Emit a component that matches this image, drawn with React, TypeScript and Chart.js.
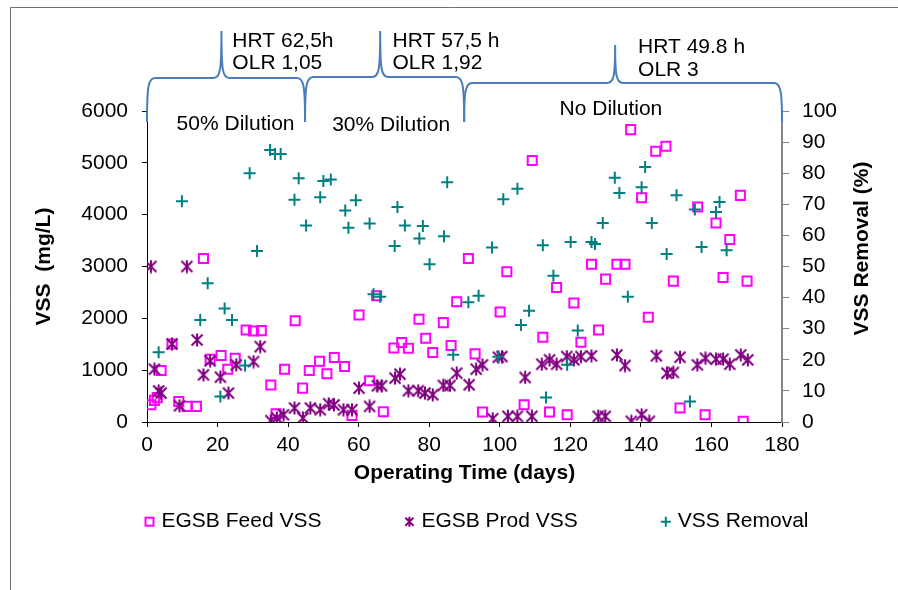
import React, { useEffect, useRef } from "react";
import { Chart, registerables } from "chart.js";

Chart.register(...registerables);

const FONT = '"Liberation Sans", Arial, Helvetica, sans-serif';

// ---- data ----
const feedDays = [1.1, 2.1, 2.9, 4.0, 7.1, 9.0, 11.3, 14.0, 16.0, 17.9, 21.0, 22.9, 25.0, 28.1, 30.2, 32.4, 35.1, 36.6, 39.0, 42.0, 44.1, 46.0, 48.9, 51.0, 53.1, 56.0, 58.1, 60.1, 63.1, 65.1, 67.0, 70.0, 72.2, 74.1, 77.1, 79.0, 81.0, 84.0, 86.2, 87.8, 91.1, 93.0, 95.1, 100.1, 102.0, 106.9, 109.2, 112.2, 114.1, 116.1, 119.1, 121.0, 123.0, 126.0, 128.0, 130.0, 133.2, 135.5, 137.1, 140.2, 142.1, 144.2, 147.1, 149.2, 151.1, 156.1, 158.2, 161.3, 163.3, 165.2, 168.2, 169.0, 170.1];
const feedVss = [333, 417, 470, 994, 1506, 397, 301, 301, 3154, 1212, 1282, 1019, 1231, 1776, 1756, 1763, 712, 160, 1019, 1955, 654, 994, 1173, 929, 1244, 1071, 128, 2064, 795, 2436, 199, 1429, 1532, 1423, 1981, 1615, 1340, 1917, 1474, 2321, 3154, 1314, 192, 2122, 2897, 333, 5045, 1635, 192, 2596, 141, 2295, 1538, 3045, 1776, 2756, 3045, 3045, 5641, 4327, 2019, 5224, 5321, 2718, 269, 4147, 141, 3840, 2788, 3519, 4372, 13, 2718];

const prodDays = [1.1, 11.3, 2.1, 3.3, 4.0, 7.1, 9.2, 14.2, 16.0, 17.9, 20.8, 23.1, 25.3, 30.2, 32.1, 35.1, 36.8, 38.7, 41.8, 44.2, 46.3, 49.1, 51.5, 53.0, 55.7, 58.1, 60.1, 63.1, 65.3, 66.5, 70.3, 71.7, 74.1, 76.9, 78.8, 81.0, 84.0, 85.9, 87.8, 91.3, 93.3, 95.1, 98.0, 99.6, 100.6, 102.3, 105.0, 107.2, 109.1, 111.9, 114.1, 116.1, 119.0, 121.0, 123.0, 126.0, 127.9, 129.9, 133.2, 135.5, 137.3, 140.2, 142.4, 144.4, 147.4, 149.2, 151.1, 156.0, 158.3, 161.3, 163.3, 165.2, 168.3, 170.3];
const prodVss = [3000, 3000, 1019, 600, 558, 1506, 314, 1583, 910, 1180, 865, 558, 1103, 1167, 1455, 26, 77, 141, 269, 77, 269, 237, 353, 330, 237, 237, 654, 301, 699, 699, 846, 923, 603, 603, 558, 526, 705, 705, 942, 718, 1019, 1103, 64, 1250, 1263, 109, 109, 859, 109, 1115, 1199, 1115, 1263, 1199, 1263, 1276, 109, 109, 1295, 1090, 13, 141, 13, 1276, 942, 955, 1250, 1103, 1231, 1212, 1212, 1115, 1295, 1199];

const removalDays = [3.3, 9.9, 15.1, 17.2, 20.8, 22.0, 24.1, 27.8, 29.1, 31.2, 34.9, 36.3, 37.9, 41.8, 43.0, 45.1, 49.1, 50.0, 52.1, 56.2, 57.1, 59.2, 63.1, 64.2, 66.1, 70.2, 71.0, 73.1, 77.2, 78.2, 80.1, 84.2, 85.1, 86.8, 91.1, 94.0, 97.8, 99.6, 101.0, 105.0, 106.0, 108.3, 112.2, 113.1, 115.2, 119.1, 120.1, 122.1, 126.0, 127.0, 129.2, 132.6, 133.9, 136.3, 140.2, 141.2, 143.1, 147.3, 150.1, 153.9, 155.3, 157.2, 161.3, 162.3, 164.3];
const removalPct = [22.4, 71, 32.8, 44.6, 8.2, 36.5, 32.8, 18.2, 80, 55, 87.5, 86.2, 86.2, 71.5, 78.4, 63.2, 72.3, 77.5, 78, 68, 62.5, 71.3, 63.8, 41.1, 40.3, 56.6, 69.1, 63.2, 59, 63, 50.7, 59.7, 77.1, 21.6, 38.5, 40.6, 56.1, 21, 71.6, 75, 31.2, 35.8, 56.8, 7.9, 47, 18.4, 57.9, 29.4, 57.9, 57.2, 64, 78.5, 73.6, 40.3, 75.5, 82, 64, 54, 72.9, 6.6, 68.3, 56.3, 67.5, 70.7, 55.2];

const seriesLabels = ["EGSB Feed VSS", "EGSB Prod VSS", "VSS Removal"];
const xTickLabels = ["0", "20", "40", "60", "80", "100", "120", "140", "160", "180"];
const leftTickLabels = ["0", "1000", "2000", "3000", "4000", "5000", "6000"];
const rightTickLabels = ["0", "10", "20", "30", "40", "50", "60", "70", "80", "90", "100"];

// phase annotations (braces) in days
const braceStart = [0, 44.8, 89.9];
const bracePeak = [21.1, 66.1, 132.7];
const braceEnd = [44.8, 89.9, 180];
const phaseNames = ["50% Dilution", "30% Dilution", "No Dilution"];
const phaseNameDay = [25.1, 69.2, 131.5];
const hrtText = ["HRT 62,5h", "HRT 57,5 h", "HRT 49.8 h"];
const olrText = ["OLR 1,05", "OLR 1,92", "OLR 3"];
const hrtDay = [24.2, 69.6, 139.2];

const MAGENTA = "#FF00FF";
const PURPLE = "#800080";
const TEAL = "#008080";
const BRACE = "#4A7EBB";

function makeStar(size: number, color: string, lw: number) {
  const c = document.createElement("canvas");
  c.width = size;
  c.height = size;
  const g = c.getContext("2d")!;
  g.strokeStyle = color;
  g.lineWidth = lw;
  g.lineCap = "butt";
  const m = size / 2;
  const a = m - 1.5;
  g.beginPath();
  g.moveTo(m - a, m - a);
  g.lineTo(m + a, m + a);
  g.moveTo(m + a, m - a);
  g.lineTo(m - a, m + a);
  g.moveTo(m, 0.5);
  g.lineTo(m, size - 0.5);
  g.stroke();
  return c;
}

function drawBrace(ctx: CanvasRenderingContext2D, xL: number, xP: number, xR: number, yH: number, yTop: number, yEnd: number) {
  const r = 8;
  ctx.beginPath();
  ctx.moveTo(xL, yEnd);
  ctx.bezierCurveTo(xL, yH + 10, xL + 1, yH, xL + r, yH);
  ctx.lineTo(xP - r, yH);
  ctx.bezierCurveTo(xP - 1, yH, xP, yH - 8, xP, yTop);
  ctx.bezierCurveTo(xP, yH - 8, xP + 1, yH, xP + r, yH);
  ctx.lineTo(xR - r, yH);
  ctx.bezierCurveTo(xR - 1, yH, xR, yH + 10, xR, yEnd);
  ctx.stroke();
}

const overlayPlugin = {
  id: "overlay",
  beforeDraw(chart: any) {
    const ctx: CanvasRenderingContext2D = chart.ctx;
    ctx.save();
    ctx.strokeStyle = "#6f6f6f";
    ctx.lineWidth = 1;
    ctx.beginPath();
    ctx.moveTo(10.5, 590);
    ctx.lineTo(10.5, 7.5);
    ctx.lineTo(898, 7.5);
    ctx.stroke();
    ctx.restore();
  },
  afterDraw(chart: any) {
    const ctx: CanvasRenderingContext2D = chart.ctx;
    const { chartArea, scales } = chart;
    const xs = scales.x;
    const top = chartArea.top;
    const yH = [top - 33, top - 34, top - 28];
    const yTop = [top - 80, top - 80, top - 66];
    const yEnd = top + 11;
    const hrtY = [top - 70, top - 70, top - 64];
    const olrY = [top - 47.5, top - 48, top - 41];
    const nameY = [top + 13.5, top + 14.5, top - 2];

    ctx.save();
    ctx.strokeStyle = BRACE;
    ctx.lineWidth = 2;
    for (let i = 0; i < braceStart.length; i++) {
      drawBrace(
        ctx,
        xs.getPixelForValue(braceStart[i]),
        xs.getPixelForValue(bracePeak[i]),
        xs.getPixelForValue(braceEnd[i]),
        yH[i],
        yTop[i],
        yEnd
      );
    }
    ctx.fillStyle = "#000";
    ctx.font = `21px ${FONT}`;
    ctx.textBaseline = "middle";
    for (let i = 0; i < hrtText.length; i++) {
      ctx.textAlign = "left";
      const hx = xs.getPixelForValue(hrtDay[i]);
      ctx.fillText(hrtText[i], hx, hrtY[i]);
      ctx.fillText(olrText[i], hx, olrY[i]);
      ctx.textAlign = "center";
      ctx.fillText(phaseNames[i], xs.getPixelForValue(phaseNameDay[i]), nameY[i]);
    }

    // right axis title (reads bottom-to-top)
    ctx.save();
    ctx.translate(chartArea.right + 80, (chartArea.top + chartArea.bottom) / 2 - 18);
    ctx.rotate(-Math.PI / 2);
    ctx.font = `bold 21px ${FONT}`;
    ctx.textAlign = "center";
    ctx.textBaseline = "middle";
    ctx.fillText("VSS Removal (%)", 0, 0);
    ctx.restore();

    // legend
    const ly = chartArea.bottom + 99.7;
    let cx = chartArea.left + 2.5;
    ctx.font = `21px ${FONT}`;
    ctx.textAlign = "left";
    ctx.textBaseline = "middle";
    for (let i = 0; i < seriesLabels.length; i++) {
      ctx.lineWidth = 2;
      if (i === 0) {
        ctx.strokeStyle = MAGENTA;
        ctx.strokeRect(cx - 4, ly - 4, 8, 8);
      } else if (i === 1) {
        ctx.strokeStyle = PURPLE;
        ctx.beginPath();
        ctx.moveTo(cx - 4, ly - 4);
        ctx.lineTo(cx + 4, ly + 4);
        ctx.moveTo(cx + 4, ly - 4);
        ctx.lineTo(cx - 4, ly + 4);
        ctx.moveTo(cx, ly - 5);
        ctx.lineTo(cx, ly + 5);
        ctx.stroke();
      } else {
        ctx.strokeStyle = TEAL;
        ctx.beginPath();
        ctx.moveTo(cx - 5, ly);
        ctx.lineTo(cx + 5, ly);
        ctx.moveTo(cx, ly - 5);
        ctx.lineTo(cx, ly + 5);
        ctx.stroke();
      }
      const tx = cx + 12;
      ctx.fillStyle = "#000";
      ctx.fillText(seriesLabels[i], tx, ly);
      cx = tx + ctx.measureText(seriesLabels[i]).width + 88;
    }
    ctx.restore();
  },
};

export default function App() {
  const ref = useRef<HTMLCanvasElement | null>(null);
  useEffect(() => {
    if (!ref.current) return;
    Chart.defaults.font.family = FONT;
    Chart.defaults.font.size = 21;
    Chart.defaults.color = "#000";
    const star = makeStar(14, PURPLE, 2);
    const chart = new Chart(ref.current, {
      type: "scatter",
      data: {
        datasets: [
          {
            label: seriesLabels[0],
            data: feedDays.map((d, i) => ({ x: d, y: feedVss[i] })),
            yAxisID: "y",
            pointStyle: "rect",
            pointRadius: 6.4,
            pointBorderWidth: 2,
            borderColor: MAGENTA,
            backgroundColor: "rgba(0,0,0,0)",
            order: 3,
          },
          {
            label: seriesLabels[1],
            data: prodDays.map((d, i) => ({ x: d, y: prodVss[i] })),
            yAxisID: "y",
            pointStyle: star as any,
            pointRadius: 7,
            borderColor: PURPLE,
            backgroundColor: PURPLE,
            order: 2,
          },
          {
            label: seriesLabels[2],
            data: removalDays.map((d, i) => ({ x: d, y: removalPct[i] })),
            yAxisID: "y1",
            pointStyle: "cross",
            pointRadius: 6,
            pointBorderWidth: 2,
            borderColor: TEAL,
            backgroundColor: TEAL,
            order: 1,
          },
        ],
      },
      options: {
        responsive: false,
        animation: false,
        events: [],
        layout: { padding: { left: 20, right: 0, top: 111, bottom: 100 } },
        plugins: { legend: { display: false }, tooltip: { enabled: false } },
        scales: {
          x: {
            type: "linear",
            position: "bottom",
            min: 0,
            max: 180,
            ticks: {
              stepSize: 20,
              padding: 6,
              maxRotation: 0,
              color: "#000",
              font: { size: 21 },
              callback: (_v: any, i: number) => xTickLabels[i],
            },
            grid: { drawOnChartArea: false, drawTicks: true, tickLength: 5, tickColor: "#000" },
            border: { color: "#000", width: 1 },
            title: {
              display: true,
              text: "Operating Time (days)",
              color: "#000",
              font: { size: 21, weight: "bold" },
              padding: { top: 0, bottom: 4 },
            },
            afterFit: (s: any) => {
              s.height = 68;
            },
          },
          y: {
            type: "linear",
            position: "left",
            min: 0,
            max: 6000,
            ticks: {
              stepSize: 1000,
              padding: 14,
              color: "#000",
              font: { size: 21 },
              callback: (_v: any, i: number) => leftTickLabels[i],
            },
            grid: { drawOnChartArea: false, drawTicks: true, tickLength: 5, tickColor: "#000" },
            border: { color: "#000", width: 1 },
            title: {
              display: true,
              text: "VSS  (mg/L)",
              color: "#000",
              font: { size: 21, weight: "bold" },
              padding: { top: 12, bottom: 0 },
            },
            afterFit: (s: any) => {
              s.width = 127;
            },
          },
          y1: {
            type: "linear",
            position: "right",
            min: 0,
            max: 100,
            ticks: {
              stepSize: 10,
              padding: 13,
              color: "#000",
              font: { size: 21 },
              callback: (_v: any, i: number) => rightTickLabels[i],
            },
            grid: { drawOnChartArea: false, drawTicks: true, tickLength: 7, tickColor: "#868686" },
            border: { color: "#868686", width: 2 },
            afterFit: (s: any) => {
              s.width = 116;
            },
          },
        },
      } as any,
      plugins: [overlayPlugin],
    });
    return () => chart.destroy();
  }, []);

  return (
    <div style={{ position: "fixed", left: 0, top: 0, width: 898, height: 590, background: "#fff" }}>
      <canvas ref={ref} width={898} height={590} style={{ display: "block", width: 898, height: 590 }} />
    </div>
  );
}
